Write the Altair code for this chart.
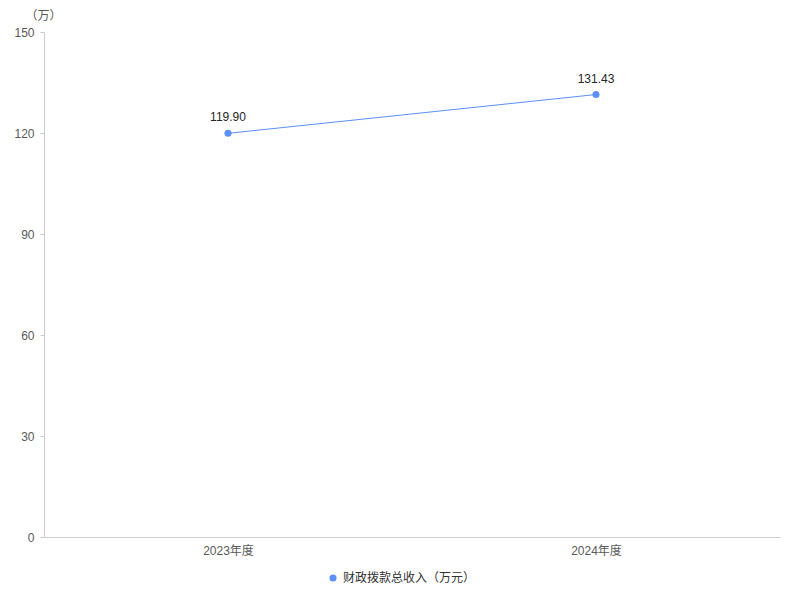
import altair as alt
import pandas as pd

categories = ["2023年度", "2024年度"]
values = [119.90, 131.43]
labels = ["119.90", "131.43"]
series_name = "财政拨款总收入（万元）"
y_ticks = [0, 30, 60, 90, 120, 150]

df = pd.DataFrame({"cat": categories, "val": values, "label": labels, "series": [series_name] * len(categories)})

FONT = "Liberation Sans, Arial, Noto Sans CJK SC, sans-serif"
COLOR = "#5B8FF9"

x = alt.X("cat:N", sort=categories, scale=alt.Scale(paddingInner=1, paddingOuter=0.5),
          axis=alt.Axis(title=None, labelAngle=0, ticks=False, domainColor="#cccccc",
                        labelColor="#595959", labelFontSize=12, labelPadding=8, labelFont=FONT))
y = alt.Y("val:Q", scale=alt.Scale(domain=[0, 150], nice=False),
          axis=alt.Axis(values=y_ticks, grid=False, title="（万）", titleAngle=0, titleX=-1, titleY=-17,
                        titleAlign="center", titleBaseline="middle", titleFontWeight="normal",
                        titleFontSize=12, titleColor="#595959", titleFont=FONT,
                        domainColor="#cccccc", tickColor="#cccccc", tickSize=4,
                        labelColor="#595959", labelFontSize=12, labelPadding=6, labelFont=FONT))

color = alt.Color("series:N", scale=alt.Scale(range=[COLOR]),
                  legend=alt.Legend(title=None, orient="none", legendX=283, legendY=540,
                                    symbolType="circle", symbolSize=50, labelFontSize=12,
                                    labelColor="#333333", labelFont=FONT, symbolStrokeWidth=0))

base = alt.Chart(df)
line = base.mark_line(strokeWidth=1).encode(x=x, y=y, color=color)
points = base.mark_point(filled=True, size=50, opacity=1).encode(x=x, y=y, color=color)
text = base.mark_text(dy=-9, baseline="bottom", fontSize=12, color="#262626", font=FONT).encode(
    x=x, y=y, text="label:N")

chart = alt.layer(line, points, text).properties(
    width=736, height=505,
    autosize=alt.AutoSizeParams(type="none"),
    padding={"left": 36, "top": 24, "right": 12, "bottom": 55},
).configure(font=FONT).configure_view(stroke=None)

chart.save("out.html", embed_options={"renderer": "svg", "actions": False})
